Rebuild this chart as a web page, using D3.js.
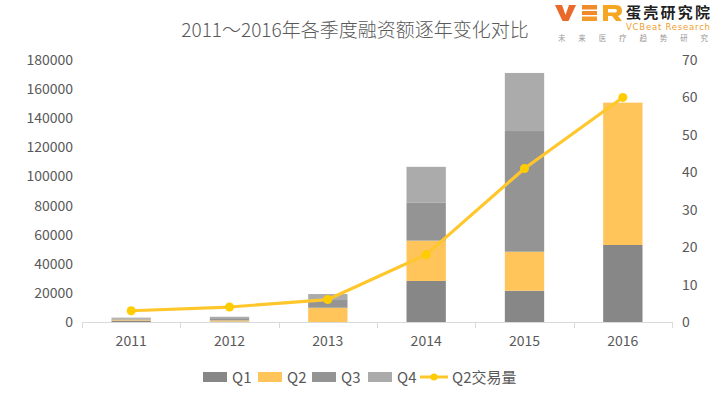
<!DOCTYPE html>
<html><head><meta charset="utf-8">
<script src="https://cdn.jsdelivr.net/npm/d3@7"></script>
<style>
html,body{margin:0;padding:0;background:#fff;}
svg{display:block;font-family:"Noto Sans CJK SC","Noto Sans",sans-serif;}
</style></head>
<body><svg id="c" width="723" height="393"></svg>
<script>
const years = ["2011","2012","2013","2014","2015","2016"];
const q1 = [1000, 300, 0, 28200, 21500, 52900];
const q2 = [700, 800, 9800, 27700, 26800, 97800];
const q3 = [800, 1500, 5300, 26000, 82900, 0];
const q4 = [500, 1000, 4100, 24700, 39900, 0];
const q2Count = [3, 4, 6, 18, 41, 60];
const leftTicks = [0,20000,40000,60000,80000,100000,120000,140000,160000,180000];
const rightTicks = [0,10,20,30,40,50,60,70];
const seriesNames = ["Q1","Q2","Q3","Q4"];
const seriesColors = ["#878787","#FFC45A","#949494","#ABABAB"];
const lineName = "Q2交易量";

const svg = d3.select("#c");
const x = d3.scaleBand().domain(years).range([82,672]).paddingInner(0.6).paddingOuter(0.3);
const y = d3.scaleLinear().domain([0,180000]).range([322,60]);
const y2 = d3.scaleLinear().domain([0,70]).range([322,60]);

// title
svg.append("text").attr("x",355).attr("y",37).attr("text-anchor","middle")
  .attr("font-size",19).attr("font-weight",300).attr("fill","#595959")
  .text("2011～2016年各季度融资额逐年变化对比");

// left axis labels
const ga = svg.append("g").attr("transform","translate(73,0)")
  .call(d3.axisLeft(y).tickValues(leftTicks).tickSize(0).tickPadding(0).tickFormat(d3.format("d")));
ga.select(".domain").remove();
ga.selectAll("text").attr("font-size",14).attr("fill","#595959").attr("font-family","'Noto Sans CJK SC',sans-serif");

const gb = svg.append("g").attr("transform","translate(682,0)")
  .call(d3.axisRight(y2).tickValues(rightTicks).tickSize(0).tickPadding(0));
gb.select(".domain").remove();
gb.selectAll("text").attr("font-size",14).attr("fill","#595959").attr("font-family","'Noto Sans CJK SC',sans-serif");

// stacked data
const rows = years.map((yr,i)=>({year:yr,Q1:q1[i],Q2:q2[i],Q3:q3[i],Q4:q4[i]}));
const stack = d3.stack().keys(seriesNames)(rows);
stack.forEach((s,k)=>{
  svg.append("g").attr("fill",seriesColors[k]).selectAll("rect").data(s).join("rect")
    .attr("x",d=>x(d.data.year)).attr("width",x.bandwidth())
    .attr("y",d=>y(d[1])).attr("height",d=>Math.max(0,y(d[0])-y(d[1])));
});

// x axis
const step = x.step();
const bounds = [x(years[0]) + x.bandwidth()/2 - step/2].concat(years.map(d=>x(d)+x.bandwidth()/2+step/2));
svg.append("line").attr("x1",bounds[0]).attr("x2",bounds[bounds.length-1]).attr("y1",322.5).attr("y2",322.5)
  .attr("stroke","#D9D9D9").attr("stroke-width",1);
svg.append("g").selectAll("line").data(bounds).join("line")
  .attr("x1",d=>Math.round(d)+0.5).attr("x2",d=>Math.round(d)+0.5).attr("y1",322).attr("y2",328)
  .attr("stroke","#D9D9D9");
svg.append("g").selectAll("text").data(years).join("text")
  .attr("x",d=>x(d)+x.bandwidth()/2).attr("y",346).attr("text-anchor","middle")
  .attr("font-size",14).attr("fill","#595959").text(d=>d);

// line
const cx = d=>x(d)+x.bandwidth()/2;
const line = d3.line().x((d,i)=>cx(years[i])).y(d=>y2(d));
svg.append("path").datum(q2Count).attr("d",line).attr("fill","none")
  .attr("stroke","#FFC72C").attr("stroke-width",3.2).attr("stroke-linejoin","round");
svg.append("g").selectAll("circle").data(q2Count).join("circle")
  .attr("cx",(d,i)=>cx(years[i])).attr("cy",d=>y2(d)).attr("r",4.5).attr("fill","#FFCC00");

// legend
const lg = svg.append("g").attr("font-size",15).attr("fill","#595959");
const lx = [203,258,312,368];
seriesNames.forEach((n,k)=>{
  lg.append("rect").attr("x",lx[k]).attr("y",372).attr("width",24).attr("height",10).attr("fill",seriesColors[k]);
  lg.append("text").attr("x",lx[k]+29).attr("y",383).attr("fill","#595959").text(n);
});
lg.append("line").attr("x1",420).attr("x2",448).attr("y1",377).attr("y2",377).attr("stroke","#FFC72C").attr("stroke-width",3);
lg.append("circle").attr("cx",434).attr("cy",377).attr("r",3.5).attr("fill","#FFCC00");
lg.append("text").attr("x",452).attr("y",383).attr("fill","#595959").text(lineName);

// logo
const logo = svg.append("g");
logo.append("path").attr("d","M555,5 L562,5 L565.5,15 L569,5 L576,5 L568.5,21 L562.5,21 Z").attr("fill","#E8692A");
logo.append("rect").attr("x",582).attr("y",5).attr("width",15).attr("height",4.5).attr("fill","#F08A2A");
logo.append("rect").attr("x",582).attr("y",11).attr("width",15).attr("height",4).attr("fill","#F08A2A");
logo.append("rect").attr("x",582).attr("y",16.5).attr("width",15).attr("height",4.5).attr("fill","#F39A2A");
logo.append("path").attr("d","M603,5 L616,5 Q622,5 622,11 Q622,15 618,16 L622,21 L616,21 L612,16 L608,16 L608,21 L603,21 Z M608,9 L608,12.5 L615,12.5 Q617,12.5 617,10.7 Q617,9 615,9 Z")
  .attr("fill","#F5A623").attr("fill-rule","evenodd");
logo.append("text").attr("x",626).attr("y",18).attr("font-size",15).attr("font-weight",700).attr("fill","#222")
  .attr("textLength",84).text("蛋壳研究院");
logo.append("text").attr("x",626).attr("y",30).attr("font-size",8.5).attr("fill","#F0A030")
  .attr("font-family","'DejaVu Sans',sans-serif").attr("textLength",84).text("VCBeat Research");
logo.append("text").attr("x",558).attr("y",41).attr("font-size",7.5).attr("fill","#999")
  .attr("textLength",150).text("未来医疗趋势研究");
</script></body></html>
